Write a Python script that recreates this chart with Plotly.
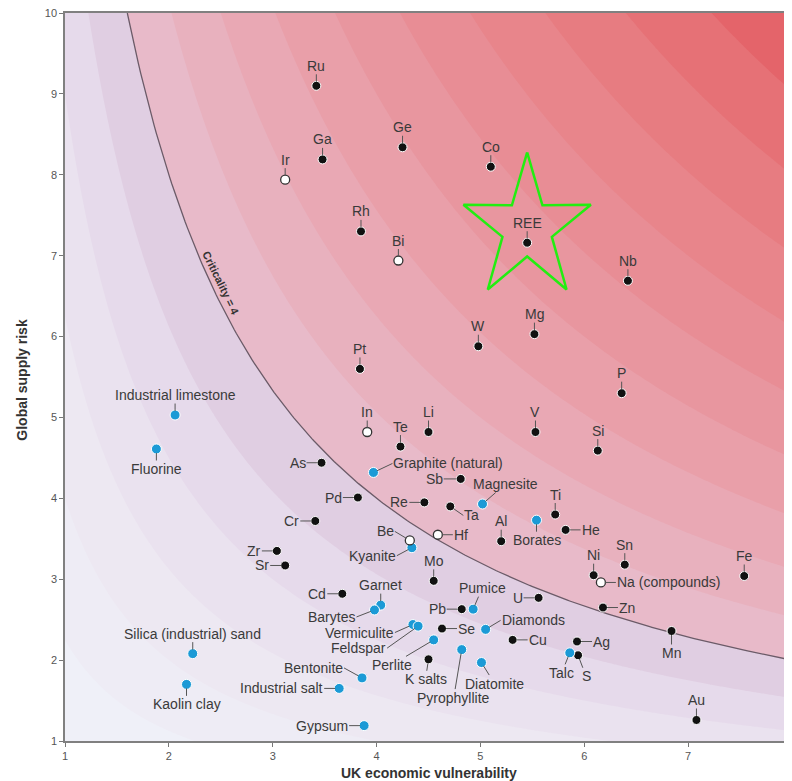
import numpy as np
import plotly.graph_objects as go

# ---------------- data ----------------
metal_names = ["Ru", "Ga", "Ge", "Co", "Rh", "REE", "Nb", "Mg", "W", "Pt", "P", "Te", "Li", "V",
               "Si", "As", "Sb", "Pd", "Re", "Ta", "Ti", "He", "Cr", "Al", "Zr", "Sr", "Mo", "Ni",
               "Sn", "Fe", "Cd", "U", "Pb", "Zn", "Se", "Mn", "Cu", "Ag", "S", "K salts", "Au"]
metal_x = [3.42, 3.48, 4.25, 5.10, 3.85, 5.45, 6.42, 5.52, 4.98, 3.84, 6.36, 4.23, 4.50, 5.53,
           6.13, 3.47, 4.81, 3.82, 4.46, 4.71, 5.72, 5.82, 3.41, 5.20, 3.04, 3.12, 4.55, 6.09,
           6.39, 7.54, 3.67, 5.56, 4.82, 6.18, 4.63, 6.84, 5.31, 5.93, 5.94, 4.50, 7.08]
metal_y = [9.10, 8.19, 8.34, 8.10, 7.30, 7.16, 6.69, 6.03, 5.88, 5.60, 5.30, 4.64, 4.82, 4.82,
           4.59, 4.44, 4.24, 4.01, 3.95, 3.90, 3.80, 3.61, 3.72, 3.47, 3.35, 3.17, 2.98, 3.05,
           3.18, 3.04, 2.82, 2.77, 2.63, 2.65, 2.39, 2.36, 2.25, 2.23, 2.06, 2.01, 1.26]

open_names = ["Ir", "Bi", "In", "Hf", "Be", "Na (compounds)"]
open_x = [3.12, 4.21, 3.91, 4.59, 4.32, 6.16]
open_y = [7.94, 6.94, 4.82, 3.55, 3.48, 2.96]

mineral_names = ["Graphite (natural)", "Magnesite", "Borates", "Kyanite", "Garnet", "Barytes",
                 "Pumice", "Vermiculite", "Feldspar", "Diamonds", "Perlite", "Talc",
                 "Pyrophyllite", "Diatomite", "Bentonite", "Industrial salt", "Gypsum",
                 "Industrial limestone", "Fluorine", "Silica (industrial) sand", "Kaolin clay"]
mineral_x = [3.97, 5.02, 5.54, 4.34, 4.04, 3.98, 4.93, 4.35, 4.40, 5.05, 4.55, 5.86,
             4.82, 5.01, 3.86, 3.64, 3.88, 2.06, 1.88, 2.23, 2.17]
mineral_y = [4.32, 3.93, 3.73, 3.39, 2.68, 2.62, 2.63, 2.44, 2.42, 2.38, 2.25, 2.09,
             2.13, 1.97, 1.78, 1.65, 1.19, 5.03, 4.61, 2.08, 1.70]

x_ticks = [1, 2, 3, 4, 5, 6, 7, 8]
y_ticks = [1, 2, 3, 4, 5, 6, 7, 8, 9, 10]
criticality_level = 4
highlight = "REE"

# ---------------- label placement (style) ----------------
# side: a=above, b=below, l=left, r=right ; dx, dy extra pixel offsets
LAB = {
    "Graphite (natural)": ("r", 4, -9), "Magnesite": ("a", 23, 0), "Sb": ("l", -2, 0),
    "Re": ("l", 0, 0), "Ta": ("r", -2, 9), "Borates": ("b", 0, 0), "He": ("r", 0, 0),
    "Cr": ("l", 0, 0), "Hf": ("r", 0, 0), "Be": ("l", 0, -9), "Kyanite": ("l", 0, 8),
    "Zr": ("l", 0, 0), "Sr": ("l", 0, 0), "As": ("l", 0, 0), "Pd": ("l", 0, 0),
    "Cd": ("l", 0, 0), "Na (compounds)": ("r", 0, 0), "Barytes": ("l", -3, 7),
    "U": ("l", 0, 0), "Pumice": ("a", 9, -1), "Pb": ("l", 0, 0), "Zn": ("r", 0, 0),
    "Vermiculite": ("l", -3, 8), "Feldspar": ("l", -16, 22), "Se": ("r", 0, 0),
    "Diamonds": ("r", 0, -9), "Mn": ("b", 0, 2), "Cu": ("r", 0, 0), "Ag": ("r", 0, 0),
    "Perlite": ("b", -42, 5), "Talc": ("b", -8, 0), "S": ("b", 8, 1),
    "Pyrophyllite": ("b", -8, 28), "K salts": ("b", -3, 0), "Diatomite": ("b", 13, 1),
    "Bentonite": ("l", -3, -10), "Industrial salt": ("l", 0, 0), "Gypsum": ("l", 0, 0),
    "Fluorine": ("b", 0, 0), "Kaolin clay": ("b", 0, 0),
}

FONT = "Arial, 'Liberation Sans', sans-serif"
LABEL_COLOR = "#3a3a3a"

fig = go.Figure()

# ---------------- background criticality field ----------------
gx = np.linspace(1, 8, 281)
gy = np.linspace(1, 10, 361)
GZ = np.sqrt(np.outer(gy, gx))
band_colors = ["#f1f3fa", "#eff0f8", "#eeecf5", "#ede8f2", "#eae2ef", "#e6daeb", "#e0cee2",
               "#e8bac9", "#e8b1be", "#e9a8b4", "#e99fa9", "#e8969f", "#e88d95", "#e8858b",
               "#e77c81", "#e67176", "#e4646a", "#e35a5e"]
n = len(band_colors)
cscale = [[k / (n - 1), c] for k, c in enumerate(band_colors)]
fig.add_trace(go.Contour(
    x=gx, y=gy, z=GZ, colorscale=cscale, showscale=False, hoverinfo="skip",
    contours=dict(start=1, end=9, size=0.5, coloring="fill", showlines=False),
    line=dict(width=0)))

# criticality = 4 curve  (sqrt(x*y) = 4)
cx = np.linspace(criticality_level ** 2 / 10, 8, 300)
fig.add_trace(go.Scatter(x=cx, y=criticality_level ** 2 / cx, mode="lines",
                         line=dict(color="#6b5b68", width=1.3), hoverinfo="skip"))

# star around REE
ri = metal_names.index(highlight)
sx0, sy0 = metal_x[ri], metal_y[ri] + 0.18
ang = np.pi / 2 + np.arange(11) * np.pi / 5
rad_x = np.where(np.arange(11) % 2 == 0, 0.645, 0.25)
rad_y = np.where(np.arange(11) % 2 == 0, 0.937, 0.35)
fig.add_trace(go.Scatter(x=sx0 + rad_x * np.cos(ang), y=sy0 + rad_y * np.sin(ang),
                         mode="lines", line=dict(color="#22ee11", width=2.5), hoverinfo="skip"))

# points
fig.add_trace(go.Scatter(x=metal_x, y=metal_y, mode="markers", text=metal_names,
                         marker=dict(size=9, color="#111111", line=dict(color="white", width=1))))
fig.add_trace(go.Scatter(x=mineral_x, y=mineral_y, mode="markers", text=mineral_names,
                         marker=dict(size=10, color="#1b9ad6", line=dict(color="white", width=1))))
fig.add_trace(go.Scatter(x=open_x, y=open_y, mode="markers", text=open_names,
                         marker=dict(size=9, color="white", line=dict(color="#333333", width=1.3))))

# labels
annotations = []
for names, xs, ys in [(metal_names, metal_x, metal_y), (open_names, open_x, open_y),
                      (mineral_names, mineral_x, mineral_y)]:
    for nm, x, y in zip(names, xs, ys):
        side, dx, dy = LAB.get(nm, ("a", 0, 0))
        xa = "center"
        if side == "a":
            ax, ay = dx, -20 + dy
        elif side == "b":
            ax, ay = dx, 20 + dy
        elif side == "l":
            ax, ay, xa = -15 + dx, dy, "right"
        else:
            ax, ay, xa = 15 + dx, dy, "left"
        annotations.append(dict(
            x=x, y=y, xref="x", yref="y", text=nm, showarrow=True, arrowhead=0,
            arrowwidth=1, arrowcolor="#555555", ax=ax, ay=ay, xanchor=xa, yanchor="middle",
            standoff=4, borderpad=0,
            font=dict(family=FONT, size=14, color=LABEL_COLOR)))

# criticality label
annotations.append(dict(x=2.50, y=6.66, xref="x", yref="y", text="<b>Criticality = 4</b>",
                        showarrow=False, textangle=64,
                        font=dict(family=FONT, size=11, color="#333333")))

# The page body has an 8px margin: figure is sized / offset so the plot area
# lands at x 65..792, y 13..741 of the 792x781 window.
W, H = 784, 773
ML, MT, MR, MB = 57, 5, 0, 40
pw, ph = W - ML - MR, H - MT - MB
# axis titles (paper coords)
annotations.append(dict(x=(428.5 - 8 - ML) / pw, y=(741 - 773) / ph, xref="paper", yref="paper",
                        text="<b>UK economic vulnerability</b>", showarrow=False,
                        yanchor="middle", font=dict(family=FONT, size=14, color="#333333")))
annotations.append(dict(x=(21.7 - 8 - ML) / pw, y=(741 - 380) / ph, xref="paper", yref="paper",
                        text="<b>Global supply risk</b>", showarrow=False, textangle=-90,
                        xanchor="center", font=dict(family=FONT, size=14, color="#333333")))

axis_common = dict(ticks="outside", ticklen=4, tickcolor="#777", showline=True,
                   linecolor="#808080", linewidth=1.5, mirror=True, showgrid=False,
                   zeroline=False, ticklabeloverflow="allow",
                   tickfont=dict(size=11, color="#555"))
fig.update_layout(
    width=W, height=H, margin=dict(l=ML, r=MR, t=MT, b=MB, autoexpand=False),
    paper_bgcolor="white", plot_bgcolor="white", showlegend=False,
    annotations=annotations, font=dict(family=FONT),
    xaxis=dict(range=[1, 8], tickvals=x_ticks, **axis_common),
    yaxis=dict(range=[1, 10], tickvals=y_ticks, **axis_common),
)

fig.write_html("out.html")
